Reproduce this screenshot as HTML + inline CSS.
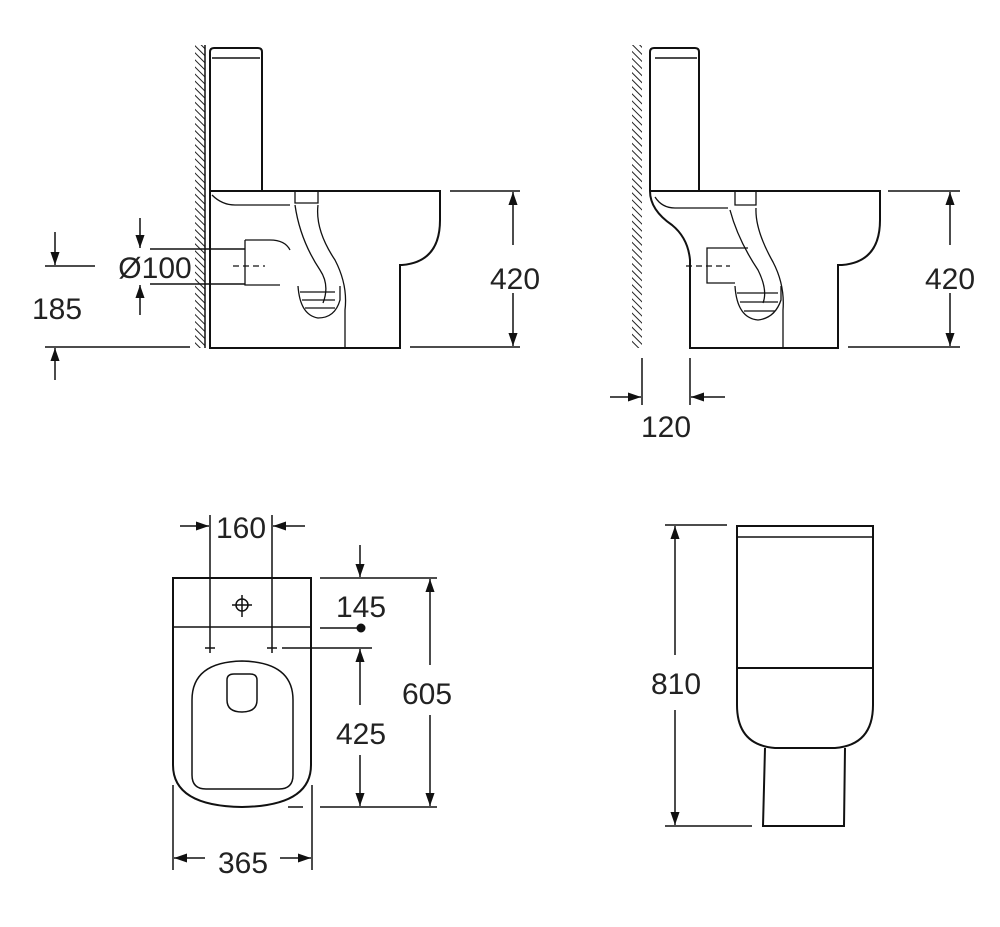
<!DOCTYPE html>
<html><head><meta charset="utf-8"><style>
html,body{margin:0;padding:0;background:#fff;}
svg{display:block;}
text{font-family:"Liberation Sans",Arial,sans-serif;font-size:30px;fill:#222;}
</style></head><body>
<svg width="1000" height="927" viewBox="0 0 1000 927" xmlns="http://www.w3.org/2000/svg">
<defs>
<pattern id="h" width="5" height="5" patternUnits="userSpaceOnUse" patternTransform="rotate(-45)">
<line x1="0" y1="0" x2="0" y2="5" stroke="#222" stroke-width="2"/>
</pattern>
<marker id="a" viewBox="0 0 10 10" refX="10" refY="5" markerWidth="13" markerHeight="13" orient="auto-start-reverse" markerUnits="userSpaceOnUse">
<path d="M0,1.5 L10,5 L0,8.5 Z" fill="#111"/>
</marker>
</defs>
<g stroke="#111" stroke-width="2" fill="none">
<!-- TOP LEFT -->
<rect x="195" y="45" width="10" height="303" fill="url(#h)" stroke="none"/>
<line x1="205" y1="45" x2="205" y2="348" stroke-width="1.5"/>
<path d="M210,190 L210,52 Q210,48 214,48 L258,48 Q262,48 262,52 L262,190"/>
<line x1="212" y1="58" x2="260" y2="58" stroke-width="1.5"/>
<path d="M210,191 L440,191 L440,220 Q440,262 402,265 L400,265 L400,348 L210,348 Z"/>
<path d="M212,195 Q222,205 235,205 L290,205" stroke-width="1.3"/>
<path d="M295,192 L295,203 L318,203 L318,192" stroke-width="1.3"/>
<path d="M295,205 Q300,240 320,270 Q330,285 323,303" stroke-width="1.3"/>
<path d="M318,205 Q315,230 335,260 Q348,285 345,310 L345,348" stroke-width="1.3"/>
<path d="M298,286 Q300,315 318,318 Q335,318 340,300 L340,286" stroke-width="1.3"/>
<g stroke-width="1.3"><line x1="300" y1="292" x2="335" y2="292"/><line x1="302" y1="300" x2="335" y2="300"/><line x1="305" y1="308" x2="335" y2="308"/></g>
<path d="M245,240 L270,240 Q285,240 290,250 M245,240 L245,285 L280,285" stroke-width="1.3"/>
<line x1="233" y1="266" x2="265" y2="266" stroke-dasharray="6,4" stroke-width="1.3"/>
<line x1="150" y1="249" x2="245" y2="249" stroke-width="1.5"/>
<line x1="150" y1="284" x2="245" y2="284" stroke-width="1.5"/>
<line x1="140" y1="218" x2="140" y2="248" marker-end="url(#a)" stroke-width="1.5"/>
<line x1="140" y1="315" x2="140" y2="285" marker-end="url(#a)" stroke-width="1.5"/>
<line x1="45" y1="266" x2="95" y2="266" stroke-width="1.5"/>
<line x1="45" y1="347" x2="190" y2="347" stroke-width="1.5"/>
<line x1="55" y1="232" x2="55" y2="265" marker-end="url(#a)" stroke-width="1.5"/>
<line x1="55" y1="380" x2="55" y2="348" marker-end="url(#a)" stroke-width="1.5"/>
<line x1="450" y1="191" x2="520" y2="191" stroke-width="1.5"/>
<line x1="410" y1="347" x2="520" y2="347" stroke-width="1.5"/>
<line x1="513" y1="245" x2="513" y2="192" marker-end="url(#a)" stroke-width="1.5"/>
<line x1="513" y1="293" x2="513" y2="346" marker-end="url(#a)" stroke-width="1.5"/>

<!-- TOP RIGHT -->
<rect x="632" y="45" width="10" height="303" fill="url(#h)" stroke="none"/>
<path d="M650,190 L650,52 Q650,48 654,48 L695,48 Q699,48 699,52 L699,190"/>
<line x1="655" y1="58" x2="697" y2="58" stroke-width="1.5"/>
<path d="M650,191 L880,191 L880,220 Q880,262 842,265 L838,265 L838,348 L690,348 L690,260 Q688,238 672,225 Q650,210 650,191 Z"/>
<path d="M655,197 Q662,208 675,208 L728,208" stroke-width="1.3"/>
<path d="M735,192 L735,205 L756,205 L756,192" stroke-width="1.3"/>
<path d="M730,210 Q738,240 758,270 Q768,290 763,303" stroke-width="1.3"/>
<path d="M756,208 Q755,230 773,262 Q785,285 783,310 L783,348" stroke-width="1.3"/>
<path d="M735,286 Q737,318 758,320 Q775,318 781,300 L781,286" stroke-width="1.3"/>
<g stroke-width="1.3"><line x1="737" y1="293" x2="778" y2="293"/><line x1="740" y1="302" x2="778" y2="302"/><line x1="744" y1="311" x2="775" y2="311"/></g>
<path d="M748,248 L707,248 L707,283 L735,283" stroke-width="1.3"/>
<line x1="686" y1="266" x2="730" y2="266" stroke-dasharray="6,4" stroke-width="1.3"/>
<line x1="642" y1="358" x2="642" y2="405" stroke-width="1.5"/>
<line x1="690" y1="358" x2="690" y2="405" stroke-width="1.5"/>
<line x1="610" y1="397" x2="641" y2="397" marker-end="url(#a)" stroke-width="1.5"/>
<line x1="725" y1="397" x2="691" y2="397" marker-end="url(#a)" stroke-width="1.5"/>
<line x1="888" y1="191" x2="960" y2="191" stroke-width="1.5"/>
<line x1="848" y1="347" x2="960" y2="347" stroke-width="1.5"/>
<line x1="950" y1="245" x2="950" y2="192" marker-end="url(#a)" stroke-width="1.5"/>
<line x1="950" y1="293" x2="950" y2="346" marker-end="url(#a)" stroke-width="1.5"/>

<!-- BOTTOM LEFT -->
<path d="M173,578 L311,578 L311,765 Q311,806 242,807 Q173,806 173,765 Z"/>
<line x1="173" y1="627" x2="311" y2="627" stroke-width="1.5"/>
<path d="M192,700 Q192,662 242,661 Q293,662 293,700 L293,775 Q293,789 279,789 L206,789 Q192,789 192,775 Z" stroke-width="1.5"/>
<path d="M227,680 Q227,674 234,674 L250,674 Q257,674 257,680 L257,700 Q257,712 242,712 Q227,712 227,700 Z" stroke-width="1.5"/>
<circle cx="242" cy="605" r="6" stroke-width="1.5"/>
<line x1="242" y1="595" x2="242" y2="617" stroke-width="1.5"/>
<line x1="232" y1="605" x2="252" y2="605" stroke-width="1.5"/>
<line x1="210" y1="515" x2="210" y2="653" stroke-width="1.5"/>
<line x1="272" y1="515" x2="272" y2="653" stroke-width="1.5"/>
<line x1="205" y1="648" x2="215" y2="648" stroke-width="1.5"/>
<line x1="267" y1="648" x2="277" y2="648" stroke-width="1.5"/>
<line x1="180" y1="526" x2="209" y2="526" marker-end="url(#a)" stroke-width="1.5"/>
<line x1="305" y1="526" x2="273" y2="526" marker-end="url(#a)" stroke-width="1.5"/>
<line x1="320" y1="578" x2="437" y2="578" stroke-width="1.5"/>
<line x1="320" y1="628" x2="362" y2="628" stroke-width="1.5"/>
<circle cx="361" cy="628" r="3.5" fill="#111"/>
<line x1="282" y1="648" x2="372" y2="648" stroke-width="1.5"/>
<line x1="288" y1="807" x2="303" y2="807" stroke-width="1.5"/>
<line x1="320" y1="807" x2="437" y2="807" stroke-width="1.5"/>
<line x1="360" y1="545" x2="360" y2="577" marker-end="url(#a)" stroke-width="1.5"/>
<line x1="360" y1="705" x2="360" y2="649" marker-end="url(#a)" stroke-width="1.5"/>
<line x1="360" y1="755" x2="360" y2="806" marker-end="url(#a)" stroke-width="1.5"/>
<line x1="430" y1="665" x2="430" y2="579" marker-end="url(#a)" stroke-width="1.5"/>
<line x1="430" y1="715" x2="430" y2="806" marker-end="url(#a)" stroke-width="1.5"/>
<line x1="173" y1="785" x2="173" y2="870" stroke-width="1.5"/>
<line x1="312" y1="785" x2="312" y2="870" stroke-width="1.5"/>
<line x1="205" y1="858" x2="174" y2="858" marker-end="url(#a)" stroke-width="1.5"/>
<line x1="280" y1="858" x2="311" y2="858" marker-end="url(#a)" stroke-width="1.5"/>

<!-- BOTTOM RIGHT -->
<rect x="737" y="526" width="136" height="142"/>
<line x1="737" y1="537" x2="873" y2="537" stroke-width="1.5"/>
<path d="M737,668 L737,705 Q737,745 775,748 L835,748 Q873,745 873,705 L873,668"/>
<path d="M765,748 L763,826 L844,826 L845,748"/>
<line x1="665" y1="525" x2="727" y2="525" stroke-width="1.5"/>
<line x1="665" y1="826" x2="752" y2="826" stroke-width="1.5"/>
<line x1="675" y1="655" x2="675" y2="526" marker-end="url(#a)" stroke-width="1.5"/>
<line x1="675" y1="710" x2="675" y2="825" marker-end="url(#a)" stroke-width="1.5"/>
</g>
<text x="155" y="278" text-anchor="middle">Ø100</text>
<text x="57" y="319" text-anchor="middle">185</text>
<text x="515" y="289" text-anchor="middle">420</text>
<text x="950" y="289" text-anchor="middle">420</text>
<text x="666" y="437" text-anchor="middle">120</text>
<text x="241" y="538" text-anchor="middle">160</text>
<text x="361" y="617" text-anchor="middle">145</text>
<text x="361" y="744" text-anchor="middle">425</text>
<text x="427" y="704" text-anchor="middle">605</text>
<text x="243" y="873" text-anchor="middle">365</text>
<text x="676" y="694" text-anchor="middle">810</text>
</svg>
</body></html>
